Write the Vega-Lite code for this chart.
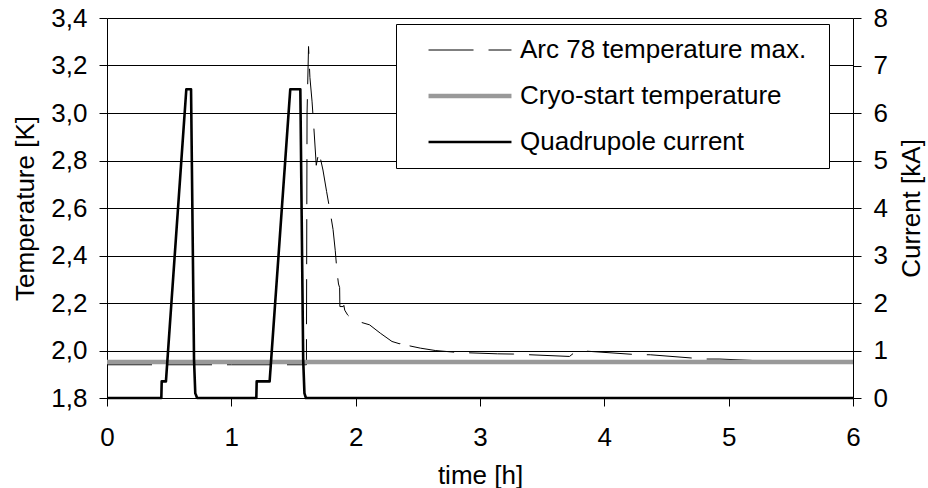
{
  "$schema": "https://vega.github.io/schema/vega-lite/v6.json",
  "width": 746,
  "height": 380,
  "autosize": {"type": "none"},
  "padding": {"left": 107, "top": 18, "right": 75, "bottom": 90},
  "background": "white",
  "config": {
    "font": "Liberation Sans",
    "view": {"stroke": null},
    "axis": {
      "domainColor": "#000000",
      "tickColor": "#000000",
      "labelColor": "#000000",
      "titleColor": "#000000",
      "labelFont": "Liberation Sans",
      "titleFont": "Liberation Sans",
      "labelFontSize": 26,
      "titleFontSize": 26,
      "titleFontWeight": "normal",
      "tickSize": 8,
      "labelPadding": 12,
      "labelFlush": false,
      "labelOverlap": false,
      "grid": false
    },
    "legend": {
      "orient": "none",
      "legendX": 289,
      "legendY": 6,
      "fillColor": "#ffffff",
      "strokeColor": "#000000",
      "padding": 13,
      "rowPadding": 20,
      "labelFont": "Liberation Sans",
      "labelFontSize": 26,
      "labelColor": "#000000",
      "labelLimit": 500,
      "symbolType": "M-4,0H4",
      "symbolSize": 430,
      "symbolOffset": 48,
      "labelOffset": 37,
      "titleOrient": "right",
      "titleFontSize": 10,
      "titlePadding": 10
    }
  },
  "datasets": {
    "temp": [
      {"series": "Arc 78 temperature max.", "t": 0, "T": 1.94},
      {"series": "Arc 78 temperature max.", "t": 1.0, "T": 1.94},
      {"series": "Arc 78 temperature max.", "t": 1.604, "T": 1.94},
      {"series": "Arc 78 temperature max.", "t": 1.609, "T": 3.0},
      {"series": "Arc 78 temperature max.", "t": 1.621, "T": 3.28},
      {"series": "Arc 78 temperature max.", "t": 1.632, "T": 3.15},
      {"series": "Arc 78 temperature max.", "t": 1.649, "T": 3.05},
      {"series": "Arc 78 temperature max.", "t": 1.666, "T": 2.92},
      {"series": "Arc 78 temperature max.", "t": 1.683, "T": 2.78},
      {"series": "Arc 78 temperature max.", "t": 1.698, "T": 2.82},
      {"series": "Arc 78 temperature max.", "t": 1.706, "T": 2.84},
      {"series": "Arc 78 temperature max.", "t": 1.716, "T": 2.81},
      {"series": "Arc 78 temperature max.", "t": 1.737, "T": 2.76},
      {"series": "Arc 78 temperature max.", "t": 1.766, "T": 2.67},
      {"series": "Arc 78 temperature max.", "t": 1.796, "T": 2.58},
      {"series": "Arc 78 temperature max.", "t": 1.818, "T": 2.51},
      {"series": "Arc 78 temperature max.", "t": 1.836, "T": 2.42},
      {"series": "Arc 78 temperature max.", "t": 1.85, "T": 2.33},
      {"series": "Arc 78 temperature max.", "t": 1.862, "T": 2.28},
      {"series": "Arc 78 temperature max.", "t": 1.871, "T": 2.265},
      {"series": "Arc 78 temperature max.", "t": 1.873, "T": 2.185},
      {"series": "Arc 78 temperature max.", "t": 1.9, "T": 2.185},
      {"series": "Arc 78 temperature max.", "t": 1.905, "T": 2.19},
      {"series": "Arc 78 temperature max.", "t": 1.912, "T": 2.17},
      {"series": "Arc 78 temperature max.", "t": 1.935, "T": 2.15},
      {"series": "Arc 78 temperature max.", "t": 1.965, "T": 2.135},
      {"series": "Arc 78 temperature max.", "t": 1.997, "T": 2.126},
      {"series": "Arc 78 temperature max.", "t": 2.112, "T": 2.108},
      {"series": "Arc 78 temperature max.", "t": 2.198, "T": 2.073},
      {"series": "Arc 78 temperature max.", "t": 2.292, "T": 2.038},
      {"series": "Arc 78 temperature max.", "t": 2.355, "T": 2.028},
      {"series": "Arc 78 temperature max.", "t": 2.36, "T": 2.042},
      {"series": "Arc 78 temperature max.", "t": 2.365, "T": 2.027},
      {"series": "Arc 78 temperature max.", "t": 2.52, "T": 2.01},
      {"series": "Arc 78 temperature max.", "t": 2.64, "T": 2.0},
      {"series": "Arc 78 temperature max.", "t": 2.815, "T": 1.992},
      {"series": "Arc 78 temperature max.", "t": 3.14, "T": 1.986},
      {"series": "Arc 78 temperature max.", "t": 3.27, "T": 1.985},
      {"series": "Arc 78 temperature max.", "t": 3.72, "T": 1.975},
      {"series": "Arc 78 temperature max.", "t": 3.78, "T": 2.0},
      {"series": "Arc 78 temperature max.", "t": 4.25, "T": 1.983},
      {"series": "Arc 78 temperature max.", "t": 4.37, "T": 1.982},
      {"series": "Arc 78 temperature max.", "t": 4.81, "T": 1.964},
      {"series": "Arc 78 temperature max.", "t": 4.93, "T": 1.964},
      {"series": "Arc 78 temperature max.", "t": 5.2, "T": 1.958},
      {"series": "Arc 78 temperature max.", "t": 6.0, "T": 1.955}
    ],
    "cryo": [
      {"series": "Cryo-start temperature", "t": 0, "T": 1.952},
      {"series": "Cryo-start temperature", "t": 6, "T": 1.952}
    ],
    "current": [
      {"series": "Quadrupole current", "t": 0, "I": 0},
      {"series": "Quadrupole current", "t": 0.437, "I": 0},
      {"series": "Quadrupole current", "t": 0.44, "I": 0.35},
      {"series": "Quadrupole current", "t": 0.474, "I": 0.35},
      {"series": "Quadrupole current", "t": 0.638, "I": 6.5},
      {"series": "Quadrupole current", "t": 0.676, "I": 6.5},
      {"series": "Quadrupole current", "t": 0.7, "I": 0.8},
      {"series": "Quadrupole current", "t": 0.71, "I": 0.1},
      {"series": "Quadrupole current", "t": 0.725, "I": 0},
      {"series": "Quadrupole current", "t": 1.201, "I": 0},
      {"series": "Quadrupole current", "t": 1.204, "I": 0.35},
      {"series": "Quadrupole current", "t": 1.308, "I": 0.35},
      {"series": "Quadrupole current", "t": 1.474, "I": 6.5},
      {"series": "Quadrupole current", "t": 1.555, "I": 6.5},
      {"series": "Quadrupole current", "t": 1.578, "I": 0.8},
      {"series": "Quadrupole current", "t": 1.588, "I": 0.1},
      {"series": "Quadrupole current", "t": 1.6, "I": 0},
      {"series": "Quadrupole current", "t": 6, "I": 0}
    ]
  },
  "layer": [
    {
      "layer": [
        {
          "data": {"name": "temp"},
          "mark": {"type": "line", "strokeJoin": "miter"},
          "encoding": {
            "x": {"field": "t", "type": "quantitative", "scale": {"domain": [0, 6], "nice": false, "zero": false}, "axis": {"title": "time [h]", "values": [0, 1, 2, 3, 4, 5, 6], "labelPadding": 18, "titlePadding": 12, "grid": false}},
            "y": {"field": "T", "type": "quantitative", "scale": {"domain": [1.8, 3.4], "nice": false, "zero": false}, "axis": {"orient": "left", "title": "Temperature [K]", "values": [1.8, 2.0, 2.2, 2.4, 2.6, 2.8, 3.0, 3.2, 3.4], "labelExpr": "replace(format(datum.value, '.1f'), '.', ',')", "grid": true, "gridColor": "#000000", "gridOpacity": 1, "gridWidth": 1, "titlePadding": 12}},
            "color": {"field": "series", "type": "nominal", "scale": {"domain": ["Arc 78 temperature max.", "Cryo-start temperature", "Quadrupole current"], "range": ["#000000", "#999999", "#000000"]}, "legend": {"title": " "}},
            "strokeDash": {"field": "series", "type": "nominal", "scale": {"domain": ["Arc 78 temperature max.", "Cryo-start temperature", "Quadrupole current"], "range": [[45, 15], [1, 0], [1, 0]]}, "legend": {"title": " "}},
            "strokeWidth": {"field": "series", "type": "nominal", "scale": {"type": "ordinal", "domain": ["Arc 78 temperature max.", "Cryo-start temperature", "Quadrupole current"], "range": [1, 4.5, 2.6]}, "legend": {"title": " "}}
          }
        },
        {
          "data": {"name": "cryo"},
          "mark": {"type": "line"},
          "encoding": {
            "x": {"field": "t", "type": "quantitative", "scale": {"domain": [0, 6], "nice": false, "zero": false}, "axis": {"title": "time [h]", "values": [0, 1, 2, 3, 4, 5, 6], "labelPadding": 18, "titlePadding": 12, "grid": false}},
            "y": {"field": "T", "type": "quantitative", "scale": {"domain": [1.8, 3.4], "nice": false, "zero": false}, "axis": {"orient": "left", "title": "Temperature [K]", "values": [1.8, 2.0, 2.2, 2.4, 2.6, 2.8, 3.0, 3.2, 3.4], "labelExpr": "replace(format(datum.value, '.1f'), '.', ',')", "grid": true, "gridColor": "#000000", "gridOpacity": 1, "gridWidth": 1, "titlePadding": 12}},
            "color": {"field": "series", "type": "nominal", "scale": {"domain": ["Arc 78 temperature max.", "Cryo-start temperature", "Quadrupole current"], "range": ["#000000", "#999999", "#000000"]}, "legend": {"title": " "}},
            "strokeDash": {"field": "series", "type": "nominal", "scale": {"domain": ["Arc 78 temperature max.", "Cryo-start temperature", "Quadrupole current"], "range": [[45, 15], [1, 0], [1, 0]]}, "legend": {"title": " "}},
            "strokeWidth": {"field": "series", "type": "nominal", "scale": {"type": "ordinal", "domain": ["Arc 78 temperature max.", "Cryo-start temperature", "Quadrupole current"], "range": [1, 4.5, 2.6]}, "legend": {"title": " "}}
          }
        }
      ]
    },
    {
      "data": {"name": "current"},
      "mark": {"type": "line", "strokeJoin": "round"},
      "encoding": {
        "x": {"field": "t", "type": "quantitative", "scale": {"domain": [0, 6], "nice": false, "zero": false}, "axis": {"title": "time [h]", "values": [0, 1, 2, 3, 4, 5, 6], "labelPadding": 18, "titlePadding": 12, "grid": false}},
        "y": {"field": "I", "type": "quantitative", "scale": {"domain": [0, 8], "nice": false, "zero": false}, "axis": {"orient": "right", "title": "Current [kA]", "values": [0, 1, 2, 3, 4, 5, 6, 7, 8], "grid": false, "titleAngle": 270, "titleBaseline": "top", "titlePadding": 11}},
        "color": {"field": "series", "type": "nominal", "scale": {"domain": ["Arc 78 temperature max.", "Cryo-start temperature", "Quadrupole current"], "range": ["#000000", "#999999", "#000000"]}, "legend": {"title": " "}},
        "strokeDash": {"field": "series", "type": "nominal", "scale": {"domain": ["Arc 78 temperature max.", "Cryo-start temperature", "Quadrupole current"], "range": [[45, 15], [1, 0], [1, 0]]}, "legend": {"title": " "}},
        "strokeWidth": {"field": "series", "type": "nominal", "scale": {"type": "ordinal", "domain": ["Arc 78 temperature max.", "Cryo-start temperature", "Quadrupole current"], "range": [1, 4.5, 2.6]}, "legend": {"title": " "}}
      }
    }
  ],
  "resolve": {"scale": {"y": "independent"}}
}
